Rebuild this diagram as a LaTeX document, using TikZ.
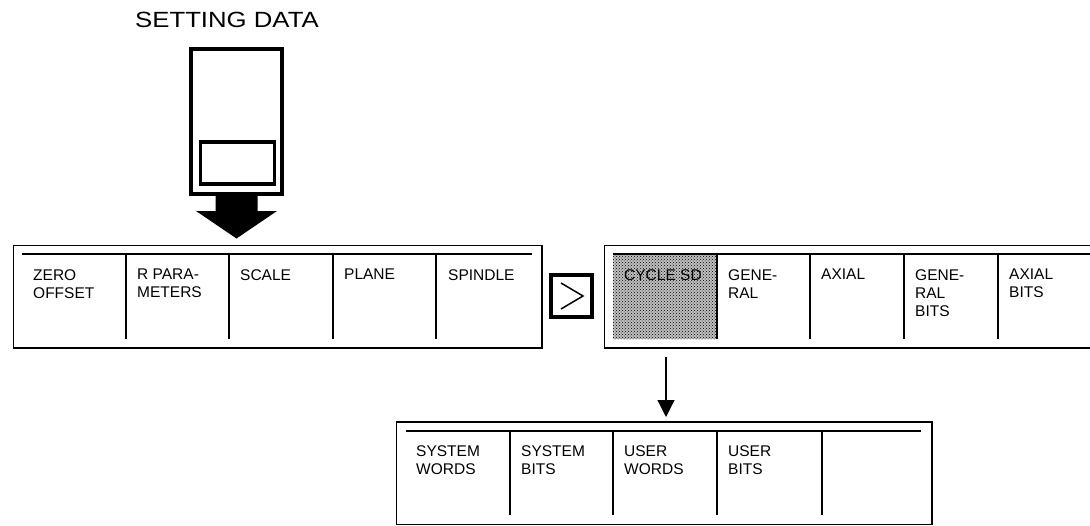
\documentclass[tikz,border=0pt]{standalone}
\usepackage{fontspec}
\setmainfont{Liberation Sans}
\usetikzlibrary{calc,patterns,arrows.meta}
\begin{document}
\begin{tikzpicture}[x=1pt, y=-1pt,
  menubar/.style={draw, line width=1.6pt, anchor=north west, minimum height=102.5pt, inner sep=0pt},
  softkey/.style={anchor=north west, inner sep=0pt, align=left, font=\fontsize{15.5}{18}\selectfont},
  sep/.style={line width=1.6pt}]
  \clip (0,0) rectangle (1090,525);

  % setting data card
  \node[anchor=base west, inner sep=0pt, font=\fontsize{22}{26}\selectfont] (title) at (135,27.5) {\scalebox{1.17}[1]{SETTING DATA}};
  \node[draw, line width=4pt, minimum width=91pt, minimum height=145pt, anchor=north west, inner sep=0pt] (card) at (189,47) {};
  \node[draw, line width=3.5pt, minimum width=74pt, minimum height=42pt, anchor=north west, inner sep=0pt] (window) at (198.5,140) {};

  % first menu
  \node[menubar, minimum width=528.5pt] (sdmenu) at (12.5,244.5) {};
  \draw[sep] (22,254) -- (532,254);
  \draw[sep] (126,254) -- (126,339);
  \draw[sep] (229,254) -- (229,339);
  \draw[sep] (333,254) -- (333,339);
  \draw[sep] (436,254) -- (436,339);
  \node[softkey] (zero) at (33,269) {ZERO\\OFFSET};
  \node[softkey] (rpar) at (137,269) {R PARA-\\METERS};
  \node[softkey] (scale) at (240,269) {SCALE};
  \node[softkey] (plane) at (344,269) {PLANE};
  \node[softkey] (spindle) at (448,269) {SPINDLE};

  % card into menu
  \fill ($(card.south)+(-21,0)$) -- ($(card.south)+(21,0)$) -- ($(card.south)+(21,15)$)
    -- ($(card.south)+(40.5,15)$) -- ($(card.south |- sdmenu.north)+(0,-6)$)
    -- ($(card.south)+(-40.5,15)$) -- ($(card.south)+(-21,15)$) -- cycle;

  % next key
  \node[draw, line width=4pt, minimum width=41pt, minimum height=42pt, inner sep=0pt] (nextkey) at (571.5,296) {};
  \draw[line width=1.5pt] ($(nextkey)+(-10.5,-13)$) -- ($(nextkey)+(11.5,0)$) -- ($(nextkey)+(-10.5,13)$);

  % second menu
  \node[menubar, minimum width=520pt] (cyclemenu) at (603.5,244.5) {};
  \fill[black!25] (613,255) rectangle (716,339);
  \fill[pattern=crosshatch dots, pattern color=black] (613,255) rectangle (716,339);
  \draw[sep] (613,254) -- (1100,254);
  \draw[sep] (717,254) -- (717,339);
  \draw[sep] (810,254) -- (810,339);
  \draw[sep] (904,254) -- (904,339);
  \draw[sep] (998,254) -- (998,339);
  \node[softkey] (cycle) at (624,269) {CYCLE SD};
  \node[softkey] (general) at (728,269) {GENE-\\RAL};
  \node[softkey] (axial) at (821,269) {AXIAL};
  \node[softkey] (genbits) at (915,269) {GENE-\\RAL\\BITS};
  \node[softkey] (axbits) at (1009,269) {AXIAL\\BITS};

  % third menu
  \node[menubar, minimum width=535.5pt] (usermenu) at (395.5,421) {};
  \draw[sep] (406,431) -- (921,431);
  \draw[sep] (510,431) -- (510,515);
  \draw[sep] (613,431) -- (613,515);
  \draw[sep] (717,431) -- (717,515);
  \draw[sep] (822,431) -- (822,515);
  \node[softkey] (syswords) at (416,445) {SYSTEM\\WORDS};
  \node[softkey] (sysbits) at (521,445) {SYSTEM\\BITS};
  \node[softkey] (userwords) at (624,445) {USER\\WORDS};
  \node[softkey] (userbits) at (728,445) {USER\\BITS};

  \coordinate (cycdown) at (666,357);
  \draw[line width=1.2pt, -{Triangle[length=17pt,width=17pt]}] (cycdown) -- ($(cycdown |- usermenu.north)+(0,-4)$);
\end{tikzpicture}
\end{document}
